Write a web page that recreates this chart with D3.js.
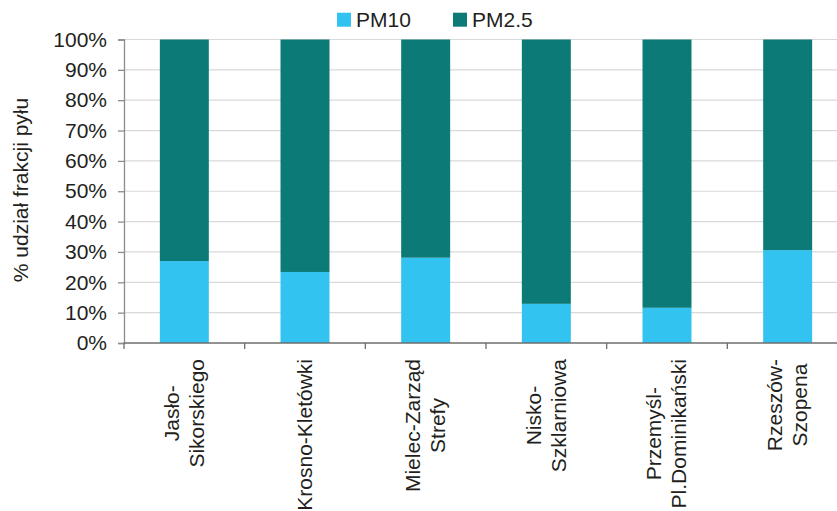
<!DOCTYPE html>
<html><head><meta charset="utf-8">
<script src="https://cdn.jsdelivr.net/npm/d3@7"></script>
<style>body{margin:0;background:#fff}svg{display:block}text{font-family:"Liberation Sans",Arial,sans-serif;fill:#231f20}</style>
</head><body>
<svg id="c" width="837" height="511"></svg>
<script>
const categories = [["Jasło-","Sikorskiego"],["Krosno-Kletówki"],["Mielec-Zarząd","Strefy"],["Nisko-","Szklarniowa"],["Przemyśl-","Pl.Dominikański"],["Rzeszów-","Szopena"]];
const pm10 = [27.0, 23.4, 28.1, 12.9, 11.6, 30.6];
const pm25 = pm10.map(v => 100 - v);
const seriesNames = ["PM10", "PM2.5"];
const colors = ["#33c3f0", "#0c7b78"];
const yTicks = [0,10,20,30,40,50,60,70,80,90,100];

const svg = d3.select("#c");
const pLeft = 124, pRight = 848, pTop = 39.5, pBottom = 343;
const FS = 21;
const keys = categories.map((c,i)=>i);
const x = d3.scaleBand().domain(keys).range([pLeft, pRight]).padding(0);
const xBar = d3.scaleBand().domain(keys).range([pLeft, pRight]).paddingInner(0.594).paddingOuter(0.297);
const y = d3.scaleLinear().domain([0,100]).range([pBottom, pTop]);

// gridlines
svg.append("g").selectAll("line").data(yTicks.filter(t=>t>0)).join("line")
  .attr("x1", pLeft).attr("x2", pRight).attr("y1", d=>y(d)).attr("y2", d=>y(d))
  .attr("stroke", "#d9d9d9").attr("stroke-width", 1.2);

// stacked bars
const rows = keys.map(i => ({i, PM10: pm10[i], "PM2.5": pm25[i]}));
const stack = d3.stack().keys(seriesNames)(rows);
svg.append("g").selectAll("g").data(stack).join("g").attr("fill", (d,k)=>colors[k])
  .selectAll("rect").data(d=>d).join("rect")
  .attr("x", d=>xBar(d.data.i)).attr("width", xBar.bandwidth())
  .attr("y", d=>y(d[1])).attr("height", d=>y(d[0]) - y(d[1]));

// y axis
const ya = svg.append("g").attr("transform", `translate(${pLeft},0)`)
  .call(d3.axisLeft(y).tickValues(yTicks).tickFormat(d=>d+"%").tickSize(6).tickPadding(11));
ya.attr("font-family", null).attr("font-size", null);
ya.select(".domain").attr("stroke", "#8c8c8c").attr("stroke-width", 1.3);
ya.selectAll(".tick line").attr("stroke", "#8c8c8c").attr("stroke-width", 1.3);
ya.selectAll(".tick text").style("font-size", FS+"px").attr("fill", "#231f20");

// x axis
const xa = svg.append("g").attr("transform", `translate(0,${pBottom})`);
xa.append("line").attr("x1", pLeft).attr("x2", pRight).attr("stroke", "#6e6e6e").attr("stroke-width", 1.3);
xa.selectAll("line.tk").data(keys).join("line").attr("class","tk")
  .attr("x1", d=>x(d)).attr("x2", d=>x(d)).attr("y1", 0).attr("y2", 6)
  .attr("stroke", "#6e6e6e").attr("stroke-width", 1.3);

// x labels
const lh = 25, labTop = 359;
categories.forEach((lines, i) => {
  const cx = x(i) + x.bandwidth()/2;
  const g = svg.append("g");
  const widths = [];
  lines.forEach(l => {
    const tmp = g.append("text").style("font-size", FS+"px").text(l);
    widths.push(tmp.node().getComputedTextLength()); tmp.remove();
  });
  const maxW = d3.max(widths);
  const n = lines.length;
  lines.forEach((l, k) => {
    const base = cx + 6.8 + (k - (n-1)/2) * lh;
    g.append("text").style("font-size", FS+"px").attr("text-anchor", "middle")
      .attr("transform", `translate(${base},${labTop + maxW/2}) rotate(-90)`).text(l);
  });
});

// y axis title
svg.append("text").attr("transform", "translate(28,190) rotate(-90)").attr("text-anchor", "middle")
  .style("font-size", FS+"px").text("% udział frakcji pyłu");

// legend
const lg = svg.append("g");
const legX = [337, 453];
seriesNames.forEach((s, k) => {
  lg.append("rect").attr("x", legX[k]).attr("y", 12.7).attr("width", 14).attr("height", 14).attr("fill", colors[k]);
  lg.append("text").attr("x", legX[k] + 19).attr("y", 27).style("font-size", FS+"px").text(s);
});
</script>
</body></html>
